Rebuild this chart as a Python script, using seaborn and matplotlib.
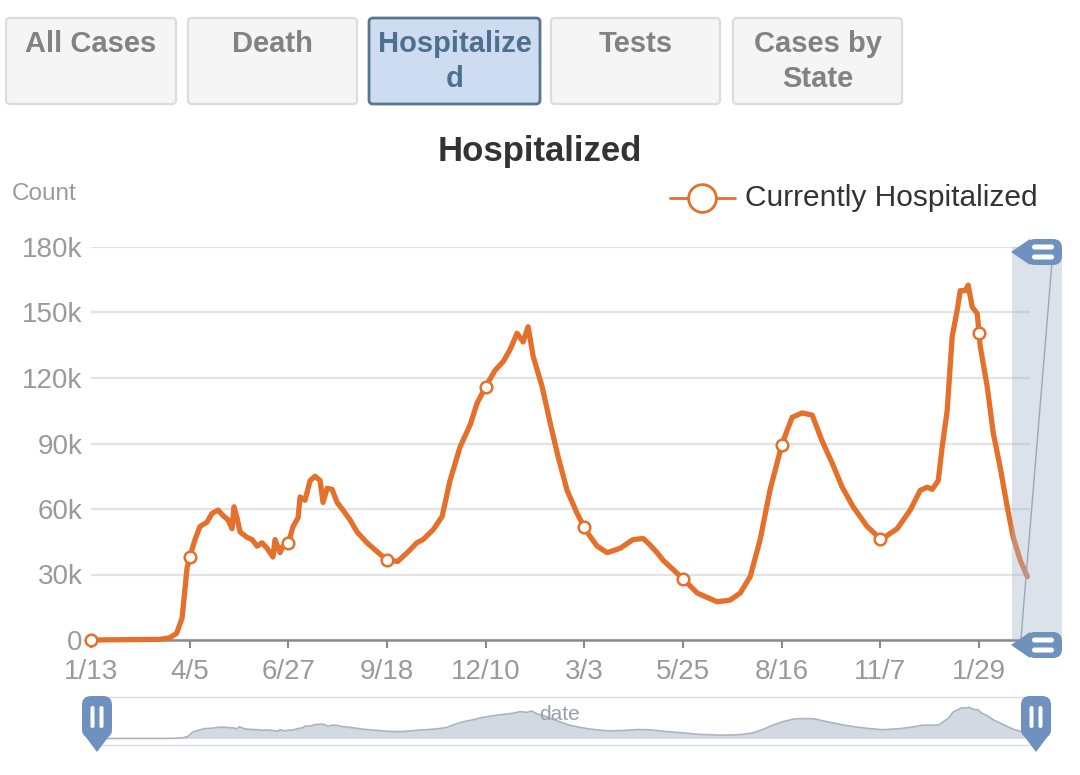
import numpy as np
import pandas as pd
import matplotlib
matplotlib.use("Agg")
import matplotlib.pyplot as plt
import seaborn as sns
from matplotlib.patches import FancyBboxPatch, Rectangle, Polygon
from matplotlib.lines import Line2D
from matplotlib.ticker import FuncFormatter

# ---------------- data (days since 2020-01-13, currently hospitalized in thousands) -------------
day_offsets = [0, 58, 66, 72, 76.6, 80.8, 83.3, 87.5, 91.7, 97.6, 101.8, 106.9, 111, 115.3, 118.6,
               120.3, 122.8, 125.4, 131.3, 135.5, 139.7, 143.9, 148.1, 153.1, 154.8, 159, 161.5,
               165.8, 170, 174.2, 175.9, 180, 184.3, 188.5, 192.7, 195.2, 198.6, 202.8, 207, 212,
               217.9, 223.8, 232.2, 240.6, 249, 258, 266, 274, 279.3, 287.8, 295.3, 302, 310.5,
               318.9, 324.8, 332.4, 339.9, 346.7, 352.5, 358.4, 363.5, 367.7, 371.9, 379.5, 386.2,
               392.9, 400.5, 408.9, 416.5, 425.7, 434.2, 445.1, 456, 464.5, 470.3, 476.2, 481.3,
               487.2, 498.1, 510, 526.7, 537.7, 546.1, 554.5, 562.9, 571.3, 581.4, 589.8, 598.2,
               606.7, 615.1, 623.5, 631.9, 641.1, 652.9, 664.7, 678.2, 689.1, 697.5, 703.4, 707.6,
               712.7, 716, 720.2, 724.4, 728.6, 731.2, 735.4, 737.9, 741.3, 745.5, 748, 753.9,
               758.9, 764.8, 770.7, 775.8, 781.7, 787.6]
hospitalized_k = [0, 0.3, 1, 3, 10, 33, 38.5, 46, 52, 54, 58, 59.5, 57, 55, 51,
                  61, 56, 49.5, 47, 46, 43, 44.5, 42, 38, 46, 40, 43,
                  44, 52, 56, 65.5, 64, 73, 75, 73, 63, 69.5, 69, 63, 59.5,
                  55, 49.5, 44.5, 40.5, 36.6, 36, 40, 44.5, 46, 50.5, 56.5, 73, 88.5,
                  98.5, 108.5, 116.5, 123.5, 127.5, 133, 140.5, 136.5, 143.5, 130, 116, 99.5,
                  84, 68.5, 58, 50, 43, 40, 42, 46, 46.5, 43.5, 40, 36.5,
                  33.5, 28, 21.5, 17.5, 18.3, 21.5, 29, 46, 69, 90, 102, 104,
                  103, 91, 81, 70, 61, 52, 46, 51, 59.5, 68.5, 70, 69,
                  73, 88.5, 105, 139, 151, 160, 160, 162.5, 152.5, 149.5, 134.5, 116,
                  95, 79, 61, 47, 36.5, 29]
tick_labels = ["1/13", "4/5", "6/27", "9/18", "12/10", "3/3", "5/25", "8/16", "11/7", "1/29"]
tick_days = [0, 83, 166, 249, 332, 415, 498, 581, 664, 747]
y_ticks_k = [0, 30, 60, 90, 120, 150, 180]
button_labels = ["All Cases", "Death", "Hospitalize\nd", "Tests", "Cases by\nState"]
series_name = "Currently Hospitalized"

df = pd.DataFrame({"day": day_offsets, "count": np.array(hospitalized_k) * 1000})

# ---------------- style ----------------
sns.set_theme(style="white")
plt.rcParams["font.family"] = ["Liberation Sans", "DejaVu Sans"]
ORANGE = "#E4702C"
GRAY_TXT = "#9A9A9A"

W, H = 1080, 775
fig = plt.figure(figsize=(W / 100, H / 100), dpi=100)
fig.patch.set_facecolor("white")

def fx(px):
    return px / W

def fy(py):
    return 1 - py / H

# ---------------- main axes ----------------
L, R, T, B = 91, 1030, 247, 640
ax = fig.add_axes([fx(L), fy(B), (R - L) / W, (B - T) / H])
xmax = (R - L) * 83 / 98.67
ax.set_xlim(0, xmax)
ax.set_ylim(0, 180000)

sns.lineplot(data=df, x="day", y="count", ax=ax, color=ORANGE, linewidth=3.8, zorder=4)
for ln in ax.lines:
    ln.set_clip_on(False)
    ln.set_solid_joinstyle("round")
    ln.set_solid_capstyle("round")

marker_vals = np.interp(tick_days, df["day"], df["count"])
sns.scatterplot(x=tick_days, y=marker_vals, ax=ax, s=70, color="white",
                edgecolor=ORANGE, linewidth=1.8, zorder=5, clip_on=False)

ax.set_yticks([v * 1000 for v in y_ticks_k])
ax.yaxis.set_major_formatter(FuncFormatter(lambda v, p: "0" if v == 0 else f"{int(v/1000)}k"))
ax.set_xticks(tick_days)
ax.set_xticklabels(tick_labels)
ax.grid(axis="y", color="#E3E3E3", linewidth=1.6)
ax.grid(axis="x", visible=False)
for s in ["left", "right", "top"]:
    ax.spines[s].set_visible(False)
ax.spines["bottom"].set_color("#8A8A8A")
ax.spines["bottom"].set_linewidth(1.8)
ax.tick_params(axis="y", length=0, pad=6, labelsize=20, labelcolor=GRAY_TXT)
ax.tick_params(axis="x", length=6, width=1.5, color="#8A8A8A", pad=8, labelsize=20,
               labelcolor=GRAY_TXT, bottom=True)
ax.set_xlabel("")
ax.set_ylabel("")
ax.set_facecolor("white")

# ---------------- mini chart in bottom slider ----------------
SL, SR, ST, SB = 97, 1035, 697, 745
axm = fig.add_axes([fx(SL), fy(SB), (SR - SL) / W, (SB - ST) / H])
axm.set_facecolor("#DDE3EC")
span_days = 787.6 * (SR - SL) / (1028 - SL)
axm.set_xlim(0, span_days)
axm.set_ylim(-34000, 217000)
sns.lineplot(data=df, x="day", y="count", ax=axm, color="#ABB3C0", linewidth=1.2)
axm.fill_between(df["day"], 0, df["count"], color="#D3D9E3", linewidth=0)
axm.set_axis_off()
axm.patch.set_visible(True)
for s in axm.spines.values():
    s.set_visible(False)

# ---------------- overlay (pixel coordinates) ----------------
ov = fig.add_axes([0, 0, 1, 1])
ov.set_xlim(0, W)
ov.set_ylim(H, 0)
ov.set_axis_off()
ov.patch.set_alpha(0)

ov.add_patch(Rectangle((SL, ST), SR - SL, SB - ST, facecolor="none", edgecolor="#D8DEE7", lw=1))
ov.text(560, 715, "date", ha="center", va="center", fontsize=15, color="#9AA0AA")

# right vertical slider (semi-transparent over the curve)
ov.add_patch(Rectangle((1012, 247), 50, 393, facecolor="#A7B7CC", alpha=0.40, edgecolor="none", zorder=3))
ov.plot([1021, 1052], [638, 262], color="#9EA7B6", lw=1.0, zorder=4)

HANDLE = "#6E91BE"

def h_handle(cy):
    ov.add_patch(FancyBboxPatch((1026, cy - 13), 36, 26, boxstyle="round,pad=0,rounding_size=9",
                                facecolor=HANDLE, edgecolor="none", zorder=6))
    ov.add_patch(Polygon([[1011, cy], [1030, cy - 13], [1030, cy + 13]], closed=True,
                         facecolor=HANDLE, edgecolor="none", zorder=6))
    for dy in (-5, 5):
        ov.add_patch(FancyBboxPatch((1032, cy + dy - 2.5), 22, 5, boxstyle="round,pad=0,rounding_size=2.5",
                                    facecolor="white", edgecolor="none", zorder=7))

def v_handle(cx):
    ov.add_patch(FancyBboxPatch((cx - 15, 696), 30, 42, boxstyle="round,pad=0,rounding_size=9",
                                facecolor=HANDLE, edgecolor="none", zorder=6))
    ov.add_patch(Polygon([[cx - 15, 732], [cx + 15, 732], [cx, 752]], closed=True,
                         facecolor=HANDLE, edgecolor="none", zorder=6))
    for dx in (-4.5, 4.5):
        ov.add_patch(FancyBboxPatch((cx + dx - 2, 706), 4, 22, boxstyle="round,pad=0,rounding_size=2",
                                    facecolor="white", edgecolor="none", zorder=7))

h_handle(252)
h_handle(645)
v_handle(97)
v_handle(1036)

# buttons
boxes = [(6, 170), (188, 169), (369, 171), (551, 169), (733, 169)]
for i, ((bx, bw), lab) in enumerate(zip(boxes, button_labels)):
    sel = (i == 2)
    ov.add_patch(FancyBboxPatch((bx, 18), bw, 86, boxstyle="round,pad=0,rounding_size=4",
                                facecolor="#CDDCF1" if sel else "#F5F5F5",
                                edgecolor="#57768F" if sel else "#DCDCDC", lw=2 if sel else 1.6))
    lines = lab.split("\n")
    for j, t in enumerate(lines):
        ov.text(bx + bw / 2, 44 + 35 * j, t, ha="center", va="center", fontsize=21,
                fontweight="bold", color="#4E7090" if sel else "#828282")

# title, axis name, legend
ov.text(540, 151, "Hospitalized", ha="center", va="center", fontsize=25, fontweight="bold", color="#333333")
ov.text(12, 194, "Count", ha="left", va="center", fontsize=17.5, color=GRAY_TXT)
ov.add_line(Line2D([670, 735], [198, 198], color=ORANGE, lw=2))
ov.plot([702], [198], marker="o", ms=20, mfc="white", mec=ORANGE, mew=2)
ov.text(745, 198, series_name, ha="left", va="center", fontsize=21.5, color="#333333")

fig.savefig("out.png", dpi=100, facecolor="white")
